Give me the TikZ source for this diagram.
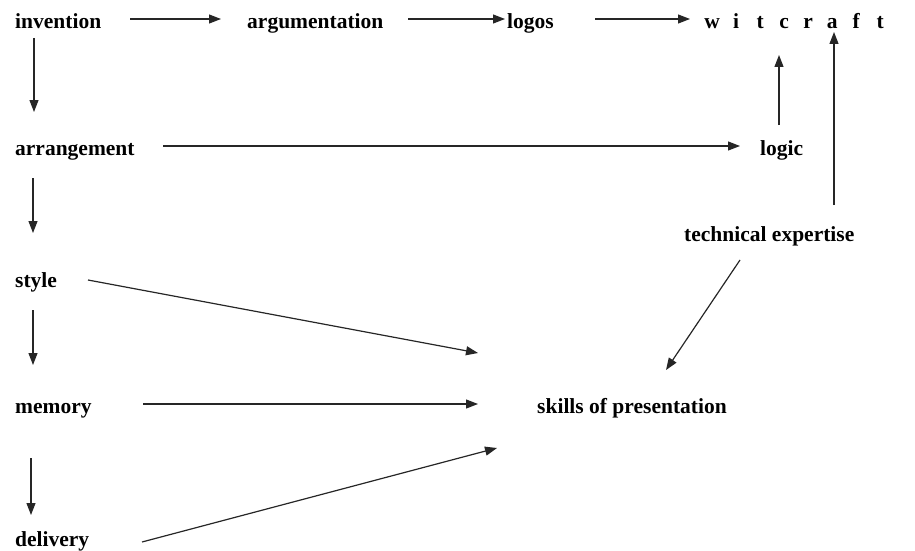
\documentclass[tikz,border=0pt]{standalone}
\usepackage{fontspec}
\setmainfont{Liberation Serif}
\usetikzlibrary{arrows.meta}
\newcommand{\wl}[1]{\makebox[24pt]{#1}}
\begin{document}
\begin{tikzpicture}[x=1pt,y=-1pt,
  lbl/.style={anchor=base west,inner sep=0pt,font=\fontsize{21.5}{24}\selectfont\bfseries},
  arr/.style={-{Triangle[length=12pt,width=9pt]},line width=1.2pt,black!85}]
\useasboundingbox (0,0) rectangle (915,551);
\node[lbl] (inv) at (15,29) {invention};
\node[lbl] (arg) at (247,29) {argumentation};
\node[lbl] (logos) at (507,29) {logos};
\node[lbl] (wit) at (700,29) {\wl{w}\wl{i}\wl{t}\wl{c}\wl{r}\wl{a}\wl{f}\wl{t}};
\node[lbl] (arrg) at (15,155) {arrangement};
\node[lbl] (logic) at (760,155) {logic};
\node[lbl] (tech) at (684,241) {technical expertise};
\node[lbl] (style) at (15,287) {style};
\node[lbl] (mem) at (15,413) {memory};
\node[lbl] (skills) at (537,413) {skills of presentation};
\node[lbl] (deliv) at (15,546) {delivery};
% connectors
\draw[arr] ([shift={(115,-10)}]inv.base west) -- ([shift={(-26,-10)}]arg.base west);
\draw[arr] ([shift={(161,-10)}]arg.base west) -- ([shift={(-2,-10)}]logos.base west);
\draw[arr] ([shift={(88,-10)}]logos.base west) -- ([shift={(-10,-10)}]wit.base west);
\draw[arr] ([shift={(19,9)}]inv.base west) -- ([shift={(19,-43)}]arrg.base west);
\draw[arr] ([shift={(148,-9)}]arrg.base west) -- ([shift={(-20,-9)}]logic.base west);
\draw[arr] ([shift={(19,-30)}]logic.base west) -- ([shift={(79,26)}]wit.base west);
\draw[arr] ([shift={(150,-36)}]tech.base west) -- ([shift={(134,3)}]wit.base west);
\draw[arr] ([shift={(18,23)}]arrg.base west) -- ([shift={(18,-54)}]style.base west);
\draw[arr] ([shift={(18,23)}]style.base west) -- ([shift={(18,-48)}]mem.base west);
\draw[arr] ([shift={(16,45)}]mem.base west) -- ([shift={(16,-31)}]deliv.base west);
\draw[arr] ([shift={(73,-7)}]style.base west) -- ([shift={(-59,-60)}]skills.base west);
\draw[arr] ([shift={(128,-9)}]mem.base west) -- ([shift={(-59,-9)}]skills.base west);
\draw[arr] ([shift={(127,-4)}]deliv.base west) -- ([shift={(-40,35)}]skills.base west);
\draw[arr] ([shift={(56,19)}]tech.base west) -- ([shift={(129,-43)}]skills.base west);
\end{tikzpicture}
\end{document}
